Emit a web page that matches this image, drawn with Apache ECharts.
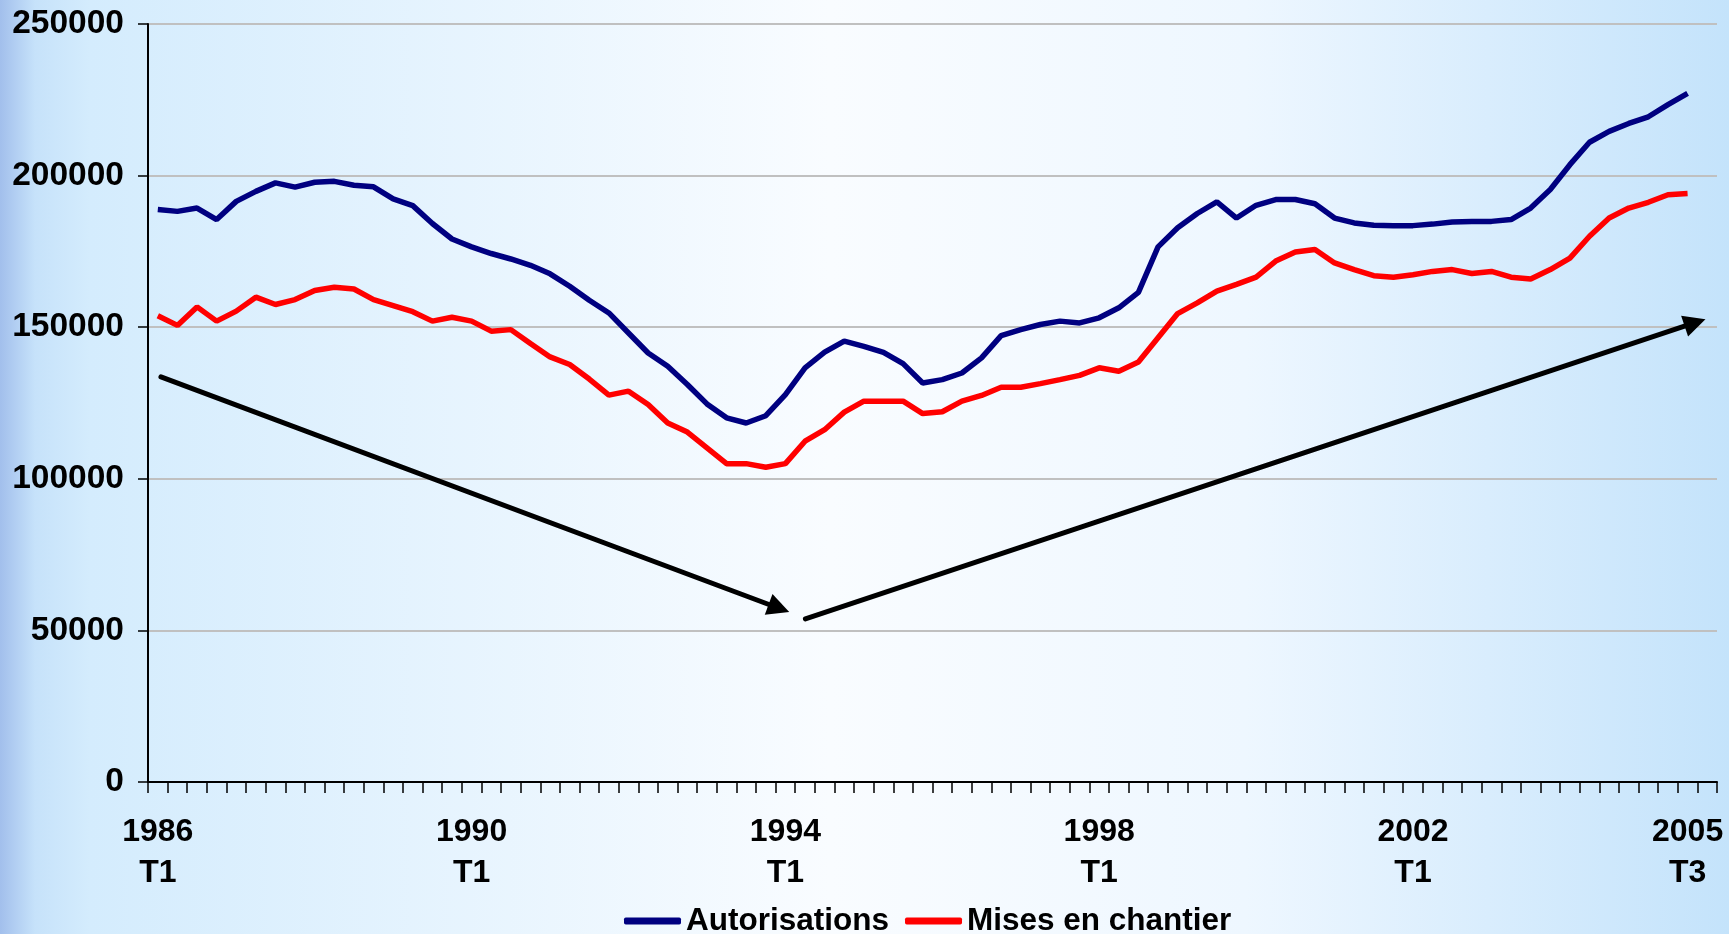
<!DOCTYPE html>
<html>
<head>
<meta charset="utf-8">
<title>Autorisations / Mises en chantier</title>
<script src="https://cdn.jsdelivr.net/npm/echarts@6/dist/echarts.min.js"></script>
<style>
    html, body {
        margin: 0;
        padding: 0;
        width: 1729px;
        height: 934px;
        overflow: hidden;
        background: linear-gradient(to right, #a2bfec 0px, #c6e2fa 35px, #d4ecfd 90px, #f9fcff 48%, #eef7ff 72%, #c4e3fb 100%);
    }
    #chart {
        width: 1729px;
        height: 934px;
    }
</style>
</head>
<body>
<div id="chart"></div>
<script>
    // trimestres 1986 T1 -> 2005 T4 (le dernier sans valeur)
    const years = [];
    for (let y = 1986; y <= 2005; y++) years.push(y);
    const quarters = ['T1', 'T2', 'T3', 'T4'];
    const categories = [];
    years.forEach(y => quarters.forEach(q => categories.push(y + '\n' + q)));

    const labelIndexes = [0, 16, 32, 48, 64, 78];
    const yTicks = [0, 50000, 100000, 150000, 200000, 250000];

    const autorisations = [
        188800, 188200, 189300, 185500, 191500, 194800, 197600, 196200, 197800, 198100,
        196800, 196300, 192300, 190100, 184200, 179100, 176500, 174300, 172500, 170400,
        167600, 163500, 158900, 154700, 148100, 141500, 137100, 131100, 124700, 120100,
        118400, 120800, 127800, 136600, 141800, 145400, 143700, 141700, 138000, 131600,
        132700, 134900, 139900, 147200, 149200, 150900, 152000, 151400, 153100, 156400,
        161500, 176500, 182800, 187500, 191300, 186000, 190200, 192100, 192100, 190700,
        186000, 184400, 183600, 183500, 183500, 184000, 184700, 184900, 184900, 185500,
        189300, 195400, 203600, 211000, 214600, 217200, 219400, 223400, 227100
    ];
    const misesEnChantier = [
        153800, 150600, 156700, 152000, 155300, 159900, 157500, 159100, 162100, 163200,
        162600, 159100, 157100, 155100, 152000, 153300, 152000, 148700, 149200, 144600,
        140200, 137700, 132900, 127600, 128900, 124500, 118400, 115400, 110200, 105000,
        105000, 103800, 105000, 112400, 116200, 122000, 125600, 125600, 125600, 121500,
        122100, 125600, 127500, 130200, 130200, 131400, 132700, 134100, 136600, 135500,
        138500, 146500, 154500, 158000, 161900, 164100, 166500, 171800, 174800, 175600,
        171200, 169000, 167000, 166500, 167300, 168400, 169000, 167700, 168400, 166500,
        165900, 169000, 172800, 180000, 186000, 189300, 191200, 193700, 194100
    ];

    // flèches : [position en trimestres depuis le bord gauche, valeur]
    const downArrow = [[0.66, 133600], [32.17, 57300]];
    const upArrow = [[33.52, 53800], [78.88, 151500]];

    const font = 'Liberation Sans, Arial, sans-serif';
    const chart = echarts.init(document.getElementById('chart'), null, { renderer: 'canvas' });

    const option = {
        backgroundColor: 'transparent',
        animation: false,
        grid: {
            left: 148,
            right: 12,
            top: 24,
            bottom: 152,
            containLabel: false
        },
        legend: {
            left: 619,
            top: 900,
            itemWidth: 57,
            itemHeight: 7,
            itemGap: 16,
            icon: 'roundRect',
            data: ['Autorisations', 'Mises en chantier'],
            textStyle: {
                fontFamily: font,
                fontWeight: 'bold',
                fontSize: 31.5,
                color: '#000'
            }
        },
        xAxis: [{
            type: 'category',
            data: categories,
            boundaryGap: true,
            axisLine: { lineStyle: { color: '#000', width: 2 } },
            axisTick: { show: true, interval: 0, length: 11, lineStyle: { color: '#000', width: 1.5 } },
            axisLabel: {
                interval: (idx) => labelIndexes.indexOf(idx) >= 0,
                margin: 30,
                fontFamily: font,
                fontWeight: 'bold',
                fontSize: 32,
                lineHeight: 41,
                color: '#000'
            },
            splitLine: { show: false }
        }, {
            type: 'value',
            min: 0,
            max: 80,
            show: false
        }],
        yAxis: {
            type: 'value',
            min: yTicks[0],
            max: yTicks[yTicks.length - 1],
            interval: 50000,
            axisLine: { show: true, lineStyle: { color: '#000', width: 2 } },
            axisTick: { show: true, length: 10, lineStyle: { color: '#000', width: 1.5 } },
            axisLabel: {
                margin: 24,
                fontFamily: font,
                fontWeight: 'bold',
                fontSize: 33.5,
                color: '#000',
                formatter: (v) => String(v)
            },
            splitLine: { lineStyle: { color: '#c0c0c0', width: 2 } }
        },
        series: [{
            name: 'Autorisations',
            type: 'line',
            data: autorisations,
            showSymbol: false,
            color: '#000080',
            lineStyle: { width: 5.5, color: '#000080' },
            z: 3
        }, {
            name: 'Mises en chantier',
            type: 'line',
            data: misesEnChantier,
            showSymbol: false,
            color: '#ff0000',
            lineStyle: { width: 5.5, color: '#ff0000' },
            z: 3
        }, {
            name: 'fleches',
            type: 'lines',
            coordinateSystem: 'cartesian2d',
            xAxisIndex: 1,
            yAxisIndex: 0,
            symbol: ['none', 'triangle'],
            symbolSize: [18, 22],
            lineStyle: { color: '#000', width: 5, opacity: 1, curveness: 0, cap: 'round' },
            data: [{ coords: downArrow }, { coords: upArrow }],
            z: 2
        }]
    };

    chart.setOption(option);
</script>
</body>
</html>
